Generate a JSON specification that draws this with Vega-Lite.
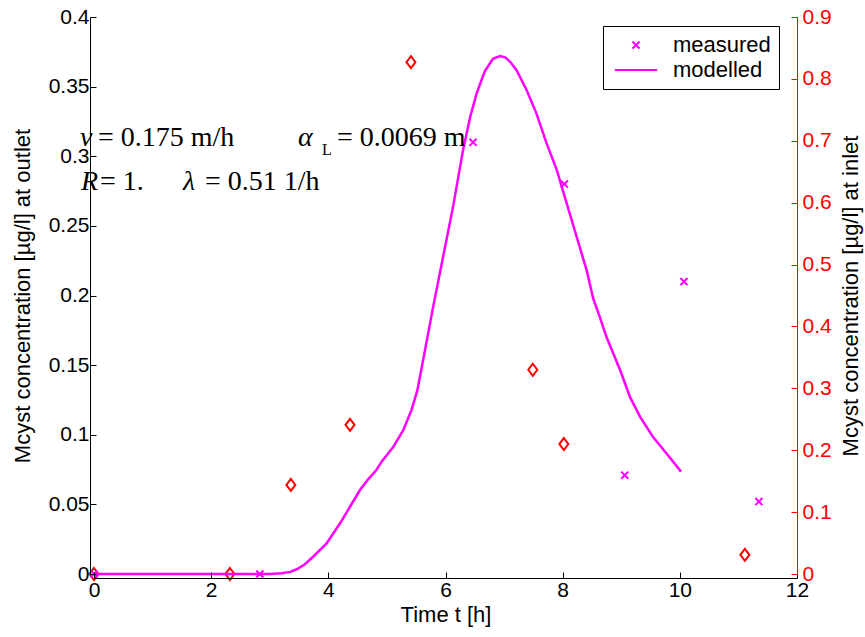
{
  "$schema": "https://vega.github.io/schema/vega-lite/v6.json",
  "width": 703,
  "height": 557,
  "autosize": {"type": "none"},
  "padding": {"left": 94, "top": 17, "right": 68, "bottom": 63},
  "background": "white",
  "config": {"view": {"stroke": null}},
  "datasets": {
    "model": [
      {"t": 0, "c": 0}, {"t": 0.5, "c": 0}, {"t": 1.0, "c": 0}, {"t": 1.5, "c": 0},
      {"t": 2.0, "c": 0}, {"t": 2.5, "c": 0}, {"t": 3.0, "c": 0}, {"t": 3.2, "c": 0.0005},
      {"t": 3.35, "c": 0.0015}, {"t": 3.46, "c": 0.0034}, {"t": 3.6, "c": 0.007},
      {"t": 3.74, "c": 0.0124}, {"t": 3.97, "c": 0.022}, {"t": 4.2, "c": 0.0364},
      {"t": 4.37, "c": 0.0483}, {"t": 4.54, "c": 0.0603}, {"t": 4.68, "c": 0.068},
      {"t": 4.82, "c": 0.0747}, {"t": 4.91, "c": 0.0807}, {"t": 5.11, "c": 0.0914},
      {"t": 5.28, "c": 0.1034}, {"t": 5.42, "c": 0.1178}, {"t": 5.52, "c": 0.132},
      {"t": 5.62, "c": 0.154}, {"t": 5.79, "c": 0.192}, {"t": 5.96, "c": 0.228},
      {"t": 6.13, "c": 0.264}, {"t": 6.3, "c": 0.3045}, {"t": 6.42, "c": 0.328},
      {"t": 6.53, "c": 0.345}, {"t": 6.67, "c": 0.361}, {"t": 6.81, "c": 0.37},
      {"t": 6.93, "c": 0.372}, {"t": 7.02, "c": 0.371}, {"t": 7.1, "c": 0.368},
      {"t": 7.21, "c": 0.362}, {"t": 7.38, "c": 0.348}, {"t": 7.55, "c": 0.331},
      {"t": 7.72, "c": 0.31}, {"t": 7.9, "c": 0.29}, {"t": 8.07, "c": 0.266},
      {"t": 8.24, "c": 0.242}, {"t": 8.41, "c": 0.218}, {"t": 8.52, "c": 0.198},
      {"t": 8.63, "c": 0.185}, {"t": 8.75, "c": 0.17}, {"t": 8.98, "c": 0.1465},
      {"t": 9.15, "c": 0.127}, {"t": 9.32, "c": 0.113}, {"t": 9.54, "c": 0.0986},
      {"t": 9.77, "c": 0.0867}, {"t": 10.02, "c": 0.0735}
    ],
    "outlet": [
      {"t": 0, "c": 0, "series": "measured"},
      {"t": 2.83, "c": 0, "series": "measured"},
      {"t": 6.47, "c": 0.31, "series": "measured"},
      {"t": 8.03, "c": 0.28, "series": "measured"},
      {"t": 9.06, "c": 0.071, "series": "measured"},
      {"t": 10.07, "c": 0.21, "series": "measured"},
      {"t": 11.35, "c": 0.052, "series": "measured"}
    ],
    "inlet": [
      {"t": 0, "c": 0}, {"t": 2.32, "c": 0}, {"t": 3.36, "c": 0.144},
      {"t": 4.37, "c": 0.241}, {"t": 5.41, "c": 0.827}, {"t": 7.49, "c": 0.33},
      {"t": 8.02, "c": 0.21}, {"t": 11.11, "c": 0.031}
    ],
    "notes": [
      {"t": -0.239, "c": 0.3074, "label": "v", "style": "i"},
      {"t": 0.068, "c": 0.3074, "label": "= 0.175 m/h", "style": "n"},
      {"t": 3.481, "c": 0.3074, "label": "α", "style": "i"},
      {"t": 3.891, "c": 0.3009, "label": "L", "style": "s"},
      {"t": 4.147, "c": 0.3074, "label": "= 0.0069 m", "style": "n"},
      {"t": -0.222, "c": 0.2758, "label": "R", "style": "i"},
      {"t": 0.102, "c": 0.2758, "label": "= 1.", "style": "n"},
      {"t": 1.519, "c": 0.2758, "label": "λ", "style": "i"},
      {"t": 1.894, "c": 0.2758, "label": "= 0.51 1/h", "style": "n"}
    ]
  },
  "layer": [
    {
      "data": {"name": "inlet"},
      "mark": {"type": "point", "filled": false, "color": "#FF0000", "strokeWidth": 2, "size": 100, "opacity": 1,
        "shape": "M0,-1.2L0.9,0L0,1.2L-0.9,0Z"},
      "encoding": {
        "x": {"field": "t", "type": "quantitative", "scale": {"domain": [0, 12], "nice": false},
          "axis": {"title": "Time t [h]", "orient": "bottom", "values": [0, 2, 4, 6, 8, 10, 12], "format": "d",
            "grid": false, "zindex": 1, "domain": true, "ticks": true, "labels": true, "labelFlush": false, "offset": 4,
            "labelFont": "Liberation Sans", "titleFont": "Liberation Sans", "labelFontSize": 21, "titleFontSize": 22,
            "titleFontWeight": "normal", "tickSize": -6, "labelPadding": 7, "titlePadding": 4,
            "domainColor": "black", "tickColor": "black", "labelColor": "black", "titleColor": "black"}},
        "y": {"field": "c", "type": "quantitative",
          "scale": {"domain": [0, 0.9], "nice": false},
          "axis": {"title": "Mcyst concentration [µg/l] at inlet", "orient": "right", "grid": false, "zindex": 1,
            "domain": true, "ticks": true,
            "values": [0, 0.1, 0.2, 0.3, 0.4, 0.5, 0.6, 0.7, 0.8, 0.9], "format": "~g",
            "labelFont": "Liberation Sans", "titleFont": "Liberation Sans", "labelFontSize": 21, "titleFontSize": 22,
            "titleFontWeight": "normal", "tickSize": -6, "labelPadding": 11,
            "domainColor": "#FF0000", "tickColor": "#FF0000", "labelColor": "#FF0000",
            "titleColor": "black", "titleAngle": -90, "titleBaseline": "top", "titlePadding": 9}}
      }
    },
    {
      "data": {"name": "model"},
      "mark": {"type": "line", "color": "#FF00FF", "strokeWidth": 2.5},
      "encoding": {
        "x": {"field": "t", "type": "quantitative", "scale": {"domain": [0, 12], "nice": false},
          "axis": {"title": "Time t [h]", "orient": "bottom", "values": [0, 2, 4, 6, 8, 10, 12], "format": "d",
            "grid": false, "zindex": 1, "domain": true, "ticks": true, "labels": true, "labelFlush": false, "offset": 4,
            "labelFont": "Liberation Sans", "titleFont": "Liberation Sans", "labelFontSize": 21, "titleFontSize": 22,
            "titleFontWeight": "normal", "tickSize": -6, "labelPadding": 7, "titlePadding": 4,
            "domainColor": "black", "tickColor": "black", "labelColor": "black", "titleColor": "black"}},
        "y": {"field": "c", "type": "quantitative", "scale": {"domain": [0, 0.4], "nice": false},
          "axis": {"title": "Mcyst concentration [µg/l] at outlet", "orient": "left", "grid": false, "zindex": 1,
            "domain": true, "ticks": true, "labels": true, "offset": 4,
            "values": [0, 0.05, 0.1, 0.15, 0.2, 0.25, 0.3, 0.35, 0.4], "format": "~g",
            "labelFont": "Liberation Sans", "titleFont": "Liberation Sans", "labelFontSize": 21, "titleFontSize": 22,
            "titleFontWeight": "normal", "tickSize": -6, "labelPadding": 7, "titlePadding": 14,
            "domainColor": "black", "tickColor": "black", "labelColor": "black", "titleColor": "black"}}
      }
    },
    {
      "data": {"name": "outlet"},
      "mark": {"type": "point", "filled": false, "color": "#FF00FF", "strokeWidth": 2, "size": 200, "opacity": 1},
      "encoding": {
        "x": {"field": "t", "type": "quantitative", "scale": {"domain": [0, 12], "nice": false},
          "axis": {"title": "Time t [h]", "orient": "bottom", "values": [0, 2, 4, 6, 8, 10, 12], "format": "d",
            "grid": false, "zindex": 1, "domain": true, "ticks": true, "labels": true, "labelFlush": false, "offset": 4,
            "labelFont": "Liberation Sans", "titleFont": "Liberation Sans", "labelFontSize": 21, "titleFontSize": 22,
            "titleFontWeight": "normal", "tickSize": -6, "labelPadding": 7, "titlePadding": 4,
            "domainColor": "black", "tickColor": "black", "labelColor": "black", "titleColor": "black"}},
        "y": {"field": "c", "type": "quantitative", "scale": {"domain": [0, 0.4], "nice": false}, "axis": null},
        "shape": {"field": "series", "type": "nominal",
          "scale": {"domain": ["measured", "modelled"],
            "range": ["M-0.5,-0.5L0.5,0.5M-0.5,0.5L0.5,-0.5", "M-3,0L3,0"]},
          "legend": {
            "title": null,
            "orient": "none",
            "legendX": 509,
            "legendY": 9,
            "direction": "vertical",
            "padding": 8,
            "strokeColor": "black",
            "fillColor": "white",
            "symbolSize": 200,
            "symbolStrokeColor": "#FF00FF",
            "symbolFillColor": "transparent",
            "symbolStrokeWidth": 2,
            "symbolOffset": 14,
            "labelOffset": 26,
            "labelFont": "Liberation Sans",
            "labelFontSize": 22,
            "labelColor": "black",
            "rowPadding": 3
          }}
      }
    },
    {
      "data": {"name": "notes"},
      "transform": [{"filter": "datum.style == 'i'"}],
      "mark": {"type": "text", "align": "left", "baseline": "alphabetic", "font": "Liberation Serif", "fontSize": 28, "fontStyle": "italic", "color": "black"},
      "encoding": {
        "x": {"field": "t", "type": "quantitative", "scale": {"domain": [0, 12], "nice": false},
          "axis": {"title": "Time t [h]", "orient": "bottom", "values": [0, 2, 4, 6, 8, 10, 12], "format": "d",
            "grid": false, "zindex": 1, "domain": true, "ticks": true, "labels": true, "labelFlush": false, "offset": 4,
            "labelFont": "Liberation Sans", "titleFont": "Liberation Sans", "labelFontSize": 21, "titleFontSize": 22,
            "titleFontWeight": "normal", "tickSize": -6, "labelPadding": 7, "titlePadding": 4,
            "domainColor": "black", "tickColor": "black", "labelColor": "black", "titleColor": "black"}},
        "y": {"field": "c", "type": "quantitative", "scale": {"domain": [0, 0.4], "nice": false}, "axis": null},
        "text": {"field": "label"}
      }
    },
    {
      "data": {"name": "notes"},
      "transform": [{"filter": "datum.style == 'n'"}],
      "mark": {"type": "text", "align": "left", "baseline": "alphabetic", "font": "Liberation Serif", "fontSize": 28, "color": "black"},
      "encoding": {
        "x": {"field": "t", "type": "quantitative", "scale": {"domain": [0, 12], "nice": false},
          "axis": {"title": "Time t [h]", "orient": "bottom", "values": [0, 2, 4, 6, 8, 10, 12], "format": "d",
            "grid": false, "zindex": 1, "domain": true, "ticks": true, "labels": true, "labelFlush": false, "offset": 4,
            "labelFont": "Liberation Sans", "titleFont": "Liberation Sans", "labelFontSize": 21, "titleFontSize": 22,
            "titleFontWeight": "normal", "tickSize": -6, "labelPadding": 7, "titlePadding": 4,
            "domainColor": "black", "tickColor": "black", "labelColor": "black", "titleColor": "black"}},
        "y": {"field": "c", "type": "quantitative", "scale": {"domain": [0, 0.4], "nice": false}, "axis": null},
        "text": {"field": "label"}
      }
    },
    {
      "data": {"name": "notes"},
      "transform": [{"filter": "datum.style == 's'"}],
      "mark": {"type": "text", "align": "left", "baseline": "alphabetic", "font": "Liberation Serif", "fontSize": 16, "color": "black"},
      "encoding": {
        "x": {"field": "t", "type": "quantitative", "scale": {"domain": [0, 12], "nice": false},
          "axis": {"title": "Time t [h]", "orient": "bottom", "values": [0, 2, 4, 6, 8, 10, 12], "format": "d",
            "grid": false, "zindex": 1, "domain": true, "ticks": true, "labels": true, "labelFlush": false, "offset": 4,
            "labelFont": "Liberation Sans", "titleFont": "Liberation Sans", "labelFontSize": 21, "titleFontSize": 22,
            "titleFontWeight": "normal", "tickSize": -6, "labelPadding": 7, "titlePadding": 4,
            "domainColor": "black", "tickColor": "black", "labelColor": "black", "titleColor": "black"}},
        "y": {"field": "c", "type": "quantitative", "scale": {"domain": [0, 0.4], "nice": false}, "axis": null},
        "text": {"field": "label"}
      }
    }
  ],
  "resolve": {"scale": {"y": "independent"}}
}
